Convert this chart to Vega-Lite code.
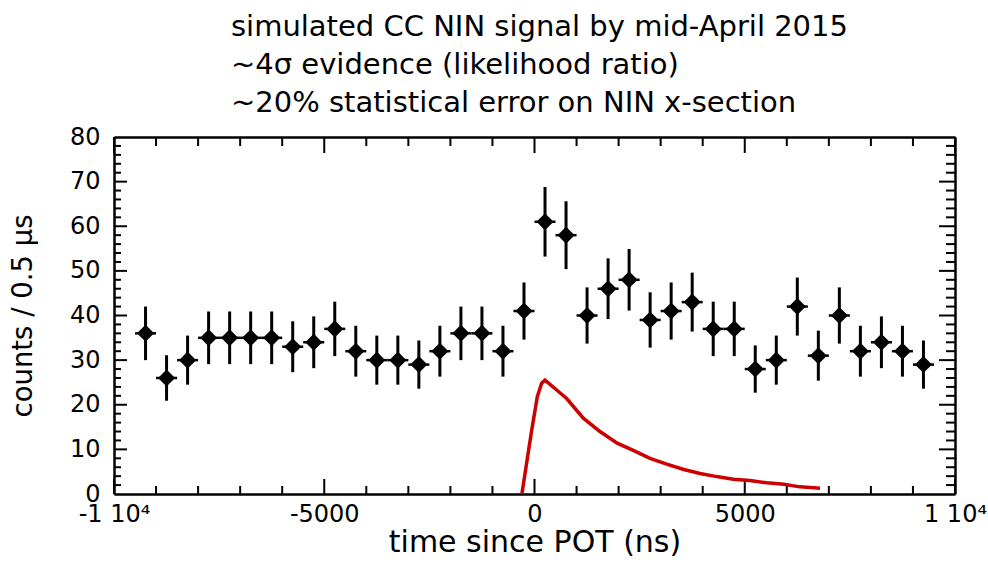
{
  "$schema": "https://vega.github.io/schema/vega-lite/v6.json",
  "autosize": "none",
  "width": 841,
  "height": 357,
  "padding": {"left": 114, "top": 137, "right": 33, "bottom": 68},
  "background": "white",
  "config": {
    "view": {"stroke": null},
    "font": "DejaVu Sans",
    "axis": {
      "domainColor": "black",
      "domainWidth": 2.5,
      "ticks": false,
      "labelColor": "black",
      "labelFont": "DejaVu Sans",
      "labelFontSize": 24,
      "titleColor": "black",
      "titleFont": "DejaVu Sans",
      "titleFontSize": 29,
      "titleFontWeight": "normal",
      "grid": false,
      "labelOverlap": false,
      "labelFlush": false
    }
  },
  "title": {
    "text": ["simulated CC NIN signal by mid-April 2015", "~4σ evidence (likelihood ratio)", "~20% statistical error on NIN x-section"],
    "anchor": "start",
    "frame": "group",
    "dx": 117,
    "offset": 7,
    "font": "DejaVu Sans",
    "fontSize": 29,
    "fontWeight": "normal",
    "lineHeight": 38,
    "color": "black"
  },
  "datasets": {
    "counts": [
      {"t": -9250, "t0": -9500, "t1": -9000, "n": 36, "lo": 30, "hi": 42},
      {"t": -8750, "t0": -9000, "t1": -8500, "n": 26, "lo": 20.9, "hi": 31.1},
      {"t": -8250, "t0": -8500, "t1": -8000, "n": 30, "lo": 24.5, "hi": 35.5},
      {"t": -7750, "t0": -8000, "t1": -7500, "n": 35, "lo": 29.1, "hi": 40.9},
      {"t": -7250, "t0": -7500, "t1": -7000, "n": 35, "lo": 29.1, "hi": 40.9},
      {"t": -6750, "t0": -7000, "t1": -6500, "n": 35, "lo": 29.1, "hi": 40.9},
      {"t": -6250, "t0": -6500, "t1": -6000, "n": 35, "lo": 29.1, "hi": 40.9},
      {"t": -5750, "t0": -6000, "t1": -5500, "n": 33, "lo": 27.3, "hi": 38.7},
      {"t": -5250, "t0": -5500, "t1": -5000, "n": 34, "lo": 28.2, "hi": 39.8},
      {"t": -4750, "t0": -5000, "t1": -4500, "n": 37, "lo": 30.9, "hi": 43.1},
      {"t": -4250, "t0": -4500, "t1": -4000, "n": 32, "lo": 26.3, "hi": 37.7},
      {"t": -3750, "t0": -4000, "t1": -3500, "n": 30, "lo": 24.5, "hi": 35.5},
      {"t": -3250, "t0": -3500, "t1": -3000, "n": 30, "lo": 24.5, "hi": 35.5},
      {"t": -2750, "t0": -3000, "t1": -2500, "n": 29, "lo": 23.6, "hi": 34.4},
      {"t": -2250, "t0": -2500, "t1": -2000, "n": 32, "lo": 26.3, "hi": 37.7},
      {"t": -1750, "t0": -2000, "t1": -1500, "n": 36, "lo": 30, "hi": 42},
      {"t": -1250, "t0": -1500, "t1": -1000, "n": 36, "lo": 30, "hi": 42},
      {"t": -750, "t0": -1000, "t1": -500, "n": 32, "lo": 26.3, "hi": 37.7},
      {"t": -250, "t0": -500, "t1": 0, "n": 41, "lo": 34.6, "hi": 47.4},
      {"t": 250, "t0": 0, "t1": 500, "n": 61, "lo": 53.2, "hi": 68.8},
      {"t": 750, "t0": 500, "t1": 1000, "n": 58, "lo": 50.4, "hi": 65.6},
      {"t": 1250, "t0": 1000, "t1": 1500, "n": 40, "lo": 33.7, "hi": 46.3},
      {"t": 1750, "t0": 1500, "t1": 2000, "n": 46, "lo": 39.2, "hi": 52.8},
      {"t": 2250, "t0": 2000, "t1": 2500, "n": 48, "lo": 41.1, "hi": 54.9},
      {"t": 2750, "t0": 2500, "t1": 3000, "n": 39, "lo": 32.8, "hi": 45.2},
      {"t": 3250, "t0": 3000, "t1": 3500, "n": 41, "lo": 34.6, "hi": 47.4},
      {"t": 3750, "t0": 3500, "t1": 4000, "n": 43, "lo": 36.4, "hi": 49.6},
      {"t": 4250, "t0": 4000, "t1": 4500, "n": 37, "lo": 30.9, "hi": 43.1},
      {"t": 4750, "t0": 4500, "t1": 5000, "n": 37, "lo": 30.9, "hi": 43.1},
      {"t": 5250, "t0": 5000, "t1": 5500, "n": 28, "lo": 22.7, "hi": 33.3},
      {"t": 5750, "t0": 5500, "t1": 6000, "n": 30, "lo": 24.5, "hi": 35.5},
      {"t": 6250, "t0": 6000, "t1": 6500, "n": 42, "lo": 35.5, "hi": 48.5},
      {"t": 6750, "t0": 6500, "t1": 7000, "n": 31, "lo": 25.4, "hi": 36.6},
      {"t": 7250, "t0": 7000, "t1": 7500, "n": 40, "lo": 33.7, "hi": 46.3},
      {"t": 7750, "t0": 7500, "t1": 8000, "n": 32, "lo": 26.3, "hi": 37.7},
      {"t": 8250, "t0": 8000, "t1": 8500, "n": 34, "lo": 28.2, "hi": 39.8},
      {"t": 8750, "t0": 8500, "t1": 9000, "n": 32, "lo": 26.3, "hi": 37.7},
      {"t": 9250, "t0": 9000, "t1": 9500, "n": 29, "lo": 23.6, "hi": 34.4}
    ],
    "signal": [
      {"t": -300, "s": 0},
      {"t": -67, "s": 14.3},
      {"t": 67, "s": 21.8},
      {"t": 170, "s": 24.8},
      {"t": 250, "s": 25.5},
      {"t": 527, "s": 23.3},
      {"t": 765, "s": 21.4},
      {"t": 1161, "s": 17.0},
      {"t": 1558, "s": 14.0},
      {"t": 1966, "s": 11.4},
      {"t": 2362, "s": 9.7},
      {"t": 2747, "s": 8.0},
      {"t": 3144, "s": 6.7},
      {"t": 3551, "s": 5.5},
      {"t": 3936, "s": 4.6},
      {"t": 4333, "s": 3.9},
      {"t": 4728, "s": 3.3},
      {"t": 5125, "s": 3.0},
      {"t": 5522, "s": 2.5},
      {"t": 5929, "s": 2.2},
      {"t": 6314, "s": 1.6},
      {"t": 6790, "s": 1.3}
    ],
    "xmajor": [{"v": -10000}, {"v": -5000}, {"v": 0}, {"v": 5000}, {"v": 10000}],
    "xminor": [{"v": -9000}, {"v": -8000}, {"v": -7000}, {"v": -6000}, {"v": -4000}, {"v": -3000}, {"v": -2000}, {"v": -1000}, {"v": 1000}, {"v": 2000}, {"v": 3000}, {"v": 4000}, {"v": 6000}, {"v": 7000}, {"v": 8000}, {"v": 9000}],
    "ymajor": [{"v": 10}, {"v": 20}, {"v": 30}, {"v": 40}, {"v": 50}, {"v": 60}, {"v": 70}],
    "yminor": [{"v": 2}, {"v": 4}, {"v": 6}, {"v": 8}, {"v": 12}, {"v": 14}, {"v": 16}, {"v": 18}, {"v": 22}, {"v": 24}, {"v": 26}, {"v": 28}, {"v": 32}, {"v": 34}, {"v": 36}, {"v": 38}, {"v": 42}, {"v": 44}, {"v": 46}, {"v": 48}, {"v": 52}, {"v": 54}, {"v": 56}, {"v": 58}, {"v": 62}, {"v": 64}, {"v": 66}, {"v": 68}, {"v": 72}, {"v": 74}, {"v": 76}, {"v": 78}]
  },
  "resolve": {"axis": {"x": "independent", "y": "independent"}},
  "layer": [
    {
      "data": {"name": "counts"},
      "mark": {"type": "rule", "color": "black", "strokeWidth": 3},
      "encoding": {
        "x": {
          "field": "t", "type": "quantitative",
          "scale": {"domain": [-10000, 10000], "nice": false, "zero": false},
          "axis": {
            "orient": "bottom",
            "title": "time since POT (ns)",
            "titleFontSize": 30,
            "titlePadding": 1,
            "values": [-10000, -5000, 0, 5000, 10000],
            "labelPadding": 8,
            "labelExpr": "datum.value === -10000 ? '-1  10⁴' : datum.value === 10000 ? '1  10⁴' : datum.value === -5000 ? '-5000' : datum.value === 0 ? '0' : '5000'"
          }
        },
        "y": {
          "field": "lo", "type": "quantitative",
          "scale": {"domain": [0, 80], "nice": false},
          "axis": {
            "orient": "left",
            "title": "counts / 0.5 μs",
            "titleFontSize": 27.5,
            "titlePadding": 32,
            "values": [0, 10, 20, 30, 40, 50, 60, 70, 80],
            "labelPadding": 14
          }
        },
        "y2": {"field": "hi"}
      }
    },
    {
      "data": {"name": "xmajor"},
      "mark": {"type": "tick", "orient": "vertical", "color": "black", "opacity": 1, "size": 15, "thickness": 2, "yOffset": -7.5},
      "encoding": {
        "x": {"field": "v", "type": "quantitative", "axis": null},
        "y": {"datum": 0, "type": "quantitative", "axis": null}
      }
    },
    {
      "data": {"name": "xminor"},
      "mark": {"type": "tick", "orient": "vertical", "color": "black", "opacity": 1, "size": 8, "thickness": 2, "yOffset": -4},
      "encoding": {
        "x": {"field": "v", "type": "quantitative", "axis": null},
        "y": {"datum": 0, "type": "quantitative", "axis": null}
      }
    },
    {
      "data": {"name": "xmajor"},
      "mark": {"type": "tick", "orient": "vertical", "color": "black", "opacity": 1, "size": 16, "thickness": 2, "yOffset": 8},
      "encoding": {
        "x": {"field": "v", "type": "quantitative", "axis": null},
        "y": {"datum": 80, "type": "quantitative", "axis": null}
      }
    },
    {
      "data": {"name": "xminor"},
      "mark": {"type": "tick", "orient": "vertical", "color": "black", "opacity": 1, "size": 9, "thickness": 2, "yOffset": 4.5},
      "encoding": {
        "x": {"field": "v", "type": "quantitative", "axis": null},
        "y": {"datum": 80, "type": "quantitative", "axis": null}
      }
    },
    {
      "data": {"name": "ymajor"},
      "mark": {"type": "tick", "orient": "horizontal", "color": "black", "opacity": 1, "size": 13, "thickness": 2, "xOffset": 6.5},
      "encoding": {
        "y": {"field": "v", "type": "quantitative", "axis": null},
        "x": {"datum": -10000, "type": "quantitative", "axis": null}
      }
    },
    {
      "data": {"name": "yminor"},
      "mark": {"type": "tick", "orient": "horizontal", "color": "black", "opacity": 1, "size": 7, "thickness": 2, "xOffset": 3.5},
      "encoding": {
        "y": {"field": "v", "type": "quantitative", "axis": null},
        "x": {"datum": -10000, "type": "quantitative", "axis": null}
      }
    },
    {
      "data": {"name": "ymajor"},
      "mark": {"type": "tick", "orient": "horizontal", "color": "black", "opacity": 1, "size": 16, "thickness": 2, "xOffset": -8},
      "encoding": {
        "y": {"field": "v", "type": "quantitative", "axis": null},
        "x": {"datum": 10000, "type": "quantitative", "axis": null}
      }
    },
    {
      "data": {"name": "yminor"},
      "mark": {"type": "tick", "orient": "horizontal", "color": "black", "opacity": 1, "size": 9, "thickness": 2, "xOffset": -4.5},
      "encoding": {
        "y": {"field": "v", "type": "quantitative", "axis": null},
        "x": {"datum": 10000, "type": "quantitative", "axis": null}
      }
    },
    {
      "data": {"name": "counts"},
      "mark": {"type": "rule", "color": "black", "strokeWidth": 2.5},
      "encoding": {
        "x": {"field": "t0", "type": "quantitative", "axis": null},
        "x2": {"field": "t1"},
        "y": {"field": "n", "type": "quantitative", "axis": null}
      }
    },
    {
      "data": {"name": "counts"},
      "mark": {"type": "point", "shape": "diamond", "filled": true, "color": "black", "opacity": 1, "size": 290},
      "encoding": {
        "x": {"field": "t", "type": "quantitative", "axis": null},
        "y": {"field": "n", "type": "quantitative", "axis": null}
      }
    },
    {
      "data": {"name": "signal"},
      "mark": {"type": "line", "color": "#cc0000", "strokeWidth": 3.5},
      "encoding": {
        "x": {
          "field": "t", "type": "quantitative",
          "axis": {"orient": "top", "title": null, "labels": false, "values": [-10000, 10000]}
        },
        "y": {
          "field": "s", "type": "quantitative",
          "axis": {"orient": "right", "title": null, "labels": false, "values": [0, 80]}
        }
      }
    }
  ]
}
